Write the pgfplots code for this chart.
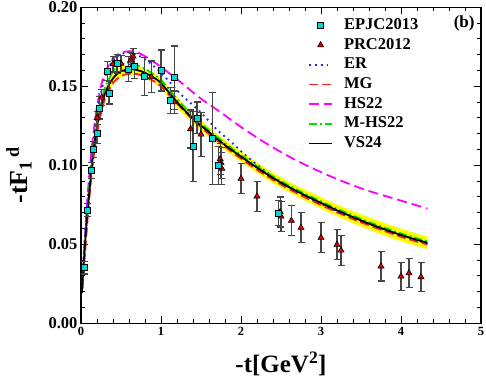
\documentclass[border=0pt]{standalone}
\usepackage{pgfplots}
\pgfplotsset{compat=1.18}
\usepackage{pgfplotstable}
\usepackage{fontspec}
\setmainfont{Liberation Serif}

\definecolor{sqcyan}{RGB}{0,215,215}
\definecolor{trired}{RGB}{220,0,0}
\definecolor{erblue}{RGB}{30,30,255}
\definecolor{mgred}{RGB}{255,30,30}
\definecolor{hsmag}{RGB}{255,0,255}
\definecolor{mhgreen}{RGB}{0,225,0}
\definecolor{band}{RGB}{255,255,0}
\definecolor{errgray}{RGB}{70,70,70}

\pgfplotsset{
  legline/.style={legend image code/.code={\draw[##1] (0pt,0pt) -- (23pt,0pt);}},
  legmark/.style={legend image code/.code={\draw[##1] plot coordinates {(11.5pt,0pt)};}},
}

% EPJC2013 data
\pgfplotstableread{
x y e
0.04 0.0352 0.004
0.08 0.0718 0.004
0.13 0.0968 0.005
0.15 0.110 0.005
0.20 0.120 0.006
0.23 0.1363 0.007
0.33 0.1595 0.006
0.35 0.1458 0.007
0.45 0.1643 0.006
0.59 0.161 0.008
0.67 0.1629 0.008
0.79 0.1563 0.012
1.00 0.160 0.013
1.12 0.141 0.008
1.17 0.1555 0.020
1.40 0.112 0.022
1.45 0.130 0.010
1.64 0.117 0.029
1.72 0.100 0.012
2.47 0.0698 0.008
}\epjc

% PRC2012 data
\pgfplotstableread{
x y e
0.20 0.130 0.004
0.26 0.143 0.005
0.40 0.164 0.005
0.50 0.1644 0.005
0.62 0.1665 0.005
0.65 0.169 0.005
0.88 0.156 0.010
1.17 0.140 0.007
1.37 0.123 0.012
1.50 0.1196 0.014
1.74 0.104 0.010
1.75 0.1015 0.010
1.76 0.098 0.010
2.00 0.0916 0.0095
2.20 0.0804 0.0095
2.49 0.0705 0.0095
2.50 0.0677 0.0095
2.63 0.065 0.0095
2.75 0.0606 0.0095
3.00 0.0542 0.0095
3.20 0.0498 0.0095
3.25 0.0462 0.0095
3.75 0.0361 0.0093
4.00 0.0297 0.009
4.10 0.0318 0.009
4.25 0.0293 0.009
}\prc

\begin{document}
\begin{tikzpicture}
\begin{axis}[
  scale only axis,
  width=400pt, height=316pt,
  xmin=0, xmax=5, ymin=0, ymax=0.20,
  xtick={0,1,2,3,4,5},
  ytick={0,0.05,0.1,0.15,0.2},
  minor x tick num=4, minor y tick num=4,
  tick align=inside, tickpos=both,
  major tick length=7pt, minor tick length=4pt,
  axis line style={line width=1.3pt},
  every tick/.style={line width=1pt, black},
  yticklabel style={font=\fontsize{16.5}{16.5}\selectfont\bfseries,
    /pgf/number format/.cd, fixed, fixed zerofill, precision=2, assume math mode=true},
  xticklabel style={font=\fontsize{12.5}{12.5}\selectfont\bfseries,
    /pgf/number format/assume math mode=true},
  xlabel={-t[GeV\textsuperscript{2}]},
  ylabel={-tF\textsubscript{1}\textsuperscript{\,d}},
  xlabel style={font=\fontsize{25}{25}\selectfont\bfseries, at={(rel axis cs:0.5,0)}, anchor=base, yshift=-49pt},
  ylabel style={font=\fontsize{26}{26}\selectfont\bfseries, at={(rel axis cs:-0.1325,0.468)}, anchor=base, rotate=0},
  clip=false,
  legend style={at={(rel axis cs:0.56,0.975)}, anchor=north west, draw=none, fill=none,
    font=\fontsize{16.5}{16.5}\selectfont\bfseries,
    nodes={inner sep=0pt, text height=12pt, text depth=4pt},
    row sep=3.7pt,
    /tikz/every odd column/.append style={column sep=11pt}},
  legend cell align=left,
]

% legend entries
\addlegendimage{legmark, only marks, mark=square*, mark size=3pt, mark options={fill=sqcyan, draw=black, line width=0.6pt}}
\addlegendentry{EPJC2013}
\addlegendimage{legmark, only marks, mark=triangle*, mark size=3.5pt, mark options={fill=trired, draw=black, line width=0.6pt}}
\addlegendentry{PRC2012}
\addlegendimage{legline, erblue, line width=1.8pt, dash pattern=on 1.8pt off 4pt}
\addlegendentry{ER}
\addlegendimage{legline, mgred, line width=1.8pt, dash pattern=on 9pt off 4pt}
\addlegendentry{MG}
\addlegendimage{legline, hsmag, line width=1.8pt, dash pattern=on 10pt off 5pt}
\addlegendentry{HS22}
\addlegendimage{legline, mhgreen, line width=1.8pt, dash pattern=on 8pt off 3pt on 2pt off 3pt}
\addlegendentry{M-HS22}
\addlegendimage{legline, black, line width=1.8pt}
\addlegendentry{VS24}

% uncertainty band of VS24
\addplot[fill=band, draw=none, forget plot] coordinates {
(0.01,0.022) (0.05,0.053) (0.10,0.084) (0.16,0.114) (0.20,0.128) (0.25,0.141)
(0.30,0.149) (0.40,0.1585) (0.50,0.1625) (0.60,0.1635) (0.70,0.163) (0.80,0.1613)
(0.90,0.1588) (1.00,0.1552) (1.20,0.1432) (1.40,0.1327) (1.60,0.1242) (1.80,0.1160)
(2.00,0.1087) (2.20,0.1018) (2.40,0.0953) (2.60,0.0895) (2.80,0.0845) (3.00,0.0798)
(3.20,0.0752) (3.40,0.0710) (3.60,0.0670) (3.80,0.0634) (4.00,0.0599) (4.20,0.0568)
(4.33,0.0550)
(4.33,0.0470) (4.20,0.0488) (4.00,0.0519) (3.80,0.0554) (3.60,0.0592) (3.40,0.0634)
(3.20,0.0678) (3.00,0.0726) (2.80,0.0775) (2.60,0.0829) (2.40,0.0887) (2.20,0.0952)
(2.00,0.1023) (1.80,0.1096) (1.60,0.1178) (1.40,0.1263) (1.20,0.1368) (1.00,0.1488)
(0.90,0.1528) (0.80,0.1553) (0.70,0.157) (0.60,0.1575) (0.50,0.1555) (0.40,0.1515)
(0.30,0.142) (0.25,0.134) (0.20,0.121) (0.16,0.107) (0.10,0.077) (0.05,0.046)
(0.01,0.016)
} -- cycle;

% HS22
\addplot[hsmag, line width=1.8pt, dash pattern=on 10pt off 5pt, smooth, forget plot] coordinates {
(0.02,0.026) (0.05,0.056) (0.10,0.092) (0.15,0.118) (0.20,0.137) (0.25,0.150)
(0.30,0.159) (0.40,0.1675) (0.50,0.1712) (0.60,0.1722) (0.70,0.1715) (0.80,0.169)
(0.90,0.1658) (1.00,0.1622) (1.20,0.1545) (1.49,0.1425) (1.74,0.1337) (2.03,0.1232)
(2.32,0.1137) (2.65,0.1042) (2.95,0.0968) (3.24,0.0905) (3.57,0.0842) (3.99,0.0778)
(4.33,0.0726)
};

% MG
\addplot[mgred, line width=1.8pt, dash pattern=on 9pt off 4pt, smooth, forget plot] coordinates {
(0.02,0.022) (0.05,0.044) (0.10,0.077) (0.15,0.102) (0.20,0.120) (0.25,0.133)
(0.30,0.142) (0.40,0.152) (0.50,0.1565) (0.60,0.158) (0.70,0.1578) (0.80,0.156)
(0.90,0.1535) (1.00,0.150) (1.20,0.1392) (1.40,0.1288) (1.60,0.1198) (1.80,0.1118)
(2.00,0.1042) (2.20,0.0972) (2.40,0.0908) (2.60,0.0850) (2.80,0.0797) (3.00,0.0749)
(3.20,0.0703) (3.40,0.0660) (3.60,0.0620) (3.80,0.0583) (4.00,0.0548) (4.20,0.0517)
(4.33,0.0499)
};

% ER
\addplot[erblue, line width=1.8pt, dash pattern=on 1.8pt off 4pt, smooth, forget plot] coordinates {
(0.01,0.022) (0.05,0.056) (0.10,0.088) (0.15,0.114) (0.20,0.132) (0.25,0.146)
(0.30,0.156) (0.35,0.162) (0.40,0.1665) (0.50,0.1705) (0.60,0.1712) (0.70,0.170)
(0.80,0.1672) (0.90,0.1632) (1.00,0.1585) (1.13,0.1515) (1.26,0.1443) (1.47,0.1348)
(1.70,0.1225) (1.86,0.1155) (2.07,0.1058) (2.30,0.0965) (2.60,0.0862) (3.00,0.0755)
(3.40,0.0667) (3.80,0.0590) (4.00,0.0555) (4.33,0.0505)
};

% M-HS22
\addplot[mhgreen, line width=1.8pt, dash pattern=on 8pt off 3pt on 2pt off 3pt, smooth, forget plot] coordinates {
(0.02,0.024) (0.05,0.050) (0.10,0.084) (0.15,0.109) (0.20,0.127) (0.25,0.140)
(0.30,0.149) (0.40,0.1595) (0.50,0.164) (0.60,0.1648) (0.70,0.1635) (0.80,0.161)
(0.90,0.1578) (1.00,0.154) (1.20,0.1420) (1.40,0.1312) (1.60,0.1222) (1.80,0.1140)
(2.00,0.1065) (2.20,0.0995) (2.40,0.0930) (2.60,0.0872) (2.80,0.0820) (3.00,0.0772)
(3.20,0.0725) (3.40,0.0682) (3.60,0.0641) (3.80,0.0604) (4.00,0.0569) (4.20,0.0538)
(4.33,0.0520)
};

% VS24
\addplot[black, line width=1.8pt, smooth, forget plot] coordinates {
(0.01,0.019) (0.03,0.035) (0.05,0.050) (0.08,0.070) (0.10,0.0805) (0.13,0.097)
(0.16,0.1105) (0.20,0.1245) (0.25,0.1375) (0.30,0.1455) (0.35,0.151) (0.40,0.155)
(0.45,0.1578) (0.50,0.1595) (0.60,0.1608) (0.70,0.1603) (0.80,0.1585) (0.90,0.1558)
(1.00,0.152) (1.20,0.140) (1.40,0.1295) (1.60,0.121) (1.80,0.1128) (2.00,0.1055)
(2.20,0.0985) (2.40,0.0920) (2.60,0.0862) (2.80,0.0810) (3.00,0.0762) (3.20,0.0715)
(3.40,0.0672) (3.60,0.0631) (3.80,0.0594) (4.00,0.0559) (4.20,0.0528) (4.33,0.0510)
};

% data
\addplot[only marks, mark=triangle*, mark size=3.5pt,
  mark options={fill=trired, draw=black, line width=0.6pt}, forget plot,
  error bars/.cd, y dir=both, y explicit,
  error bar style={line width=1.2pt, errgray},
  error mark options={rotate=90, mark size=3.5pt, line width=1.2pt, errgray}]
  table[x=x, y=y, y error=e] {\prc};

\addplot[only marks, mark=square*, mark size=3pt,
  mark options={fill=sqcyan, draw=black, line width=0.6pt}, forget plot,
  error bars/.cd, y dir=both, y explicit,
  error bar style={line width=1.2pt, errgray},
  error mark options={rotate=90, mark size=3.5pt, line width=1.2pt, errgray}]
  table[x=x, y=y, y error=e] {\epjc};

\node[font=\fontsize{17}{17}\selectfont\bfseries] at (axis cs:4.79,0.190) {(b)};
\end{axis}
\pgfresetboundingbox
\path ([xshift=-81pt,yshift=-54pt]current axis.south west) rectangle ([xshift=5pt,yshift=7.3pt]current axis.north east);
\end{tikzpicture}
\end{document}
